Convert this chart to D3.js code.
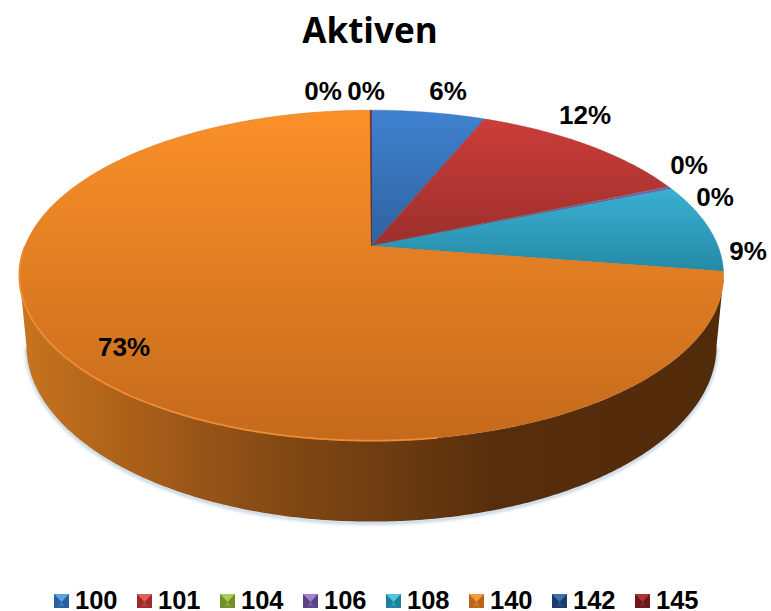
<!DOCTYPE html>
<html><head><meta charset="utf-8">
<script src="https://cdn.jsdelivr.net/npm/d3@7/dist/d3.min.js"></script>
<style>html,body{margin:0;background:#fff;overflow:hidden}svg{display:block}</style>
</head><body>
<script>
const categories = ["100","101","104","106","108","140","142","145"];
const values = [6.2,12.3,0.05,0.2,8.7,72.48,0.02,0.05];
const percentLabels = ["6%","12%","0%","0%","9%","73%","0%","0%"];
const topColors = [["#3f82cf","#2f62a0"],["#cb3d3a","#9c2f2c"],["#94b93f","#7c9a33"],["#7f5cb8","#6a4a9c"],["#3ab0d2","#248aa6"],["#fb9029","#c56a1c"],["#2c4d7c","#1f3a60"],["#8a2523","#6b1b1a"]];
const legendColors = [["#5da2e6","#2a5f9e"],["#e0605c","#9c2a28"],["#a9cd55","#6f8f2c"],["#a082d0","#5c4285"],["#50c4e0","#20809a"],["#f59a35","#b8651a"],["#3f70ad","#1c3c68"],["#a83533","#671a19"]];
const wallStops = [[0,"#c9741f"],[0.12,"#b2651a"],[0.25,"#995518"],[0.4,"#7e4613"],[0.55,"#6a3a10"],[0.68,"#562e0c"],[1,"#522b0b"]];

const W=771,H=611;
const svg=d3.select("body").append("svg").attr("width",W).attr("height",H);
const defs=svg.append("defs");
const cx=371.5, apexY=246, R=346.5, K=0.178, A=160;
const px=d3.scaleLinear().domain([0,1]).range([cx,cx+R]);
const py=d3.scaleLinear().domain([0,1]).range([apexY,apexY-A]);
function topPt(t){const u=Math.sin(t),v=Math.cos(t),d=1+K*v;return [px(u/d),py(v/d)];}
const botX=d3.scaleLinear().domain([cx,cx+100]).range([cx,cx+98]);
const botY=d3.scaleLinear().domain([272,441]).range([342,522]);
function botPt(t){const p=topPt(t);return [botX(p[0]),botY(p[1])];}
const line=d3.line();
const arcs=d3.pie().sort(null)(values);
function samples(a0,a1){const n=Math.max(2,Math.ceil((a1-a0)/0.01));return d3.range(n+1).map(i=>a0+(a1-a0)*i/n);}

topColors.forEach((c,i)=>{const g=defs.append("linearGradient").attr("id","top"+i).attr("x1",0).attr("x2",0).attr("y1",0).attr("y2",1);
 g.append("stop").attr("offset",0).attr("stop-color",c[0]);
 g.append("stop").attr("offset",1).attr("stop-color",c[1]);});
const wg=defs.append("linearGradient").attr("id","wall").attr("gradientUnits","userSpaceOnUse").attr("x1",19).attr("x2",724).attr("y1",0).attr("y2",0);
wallStops.forEach(s=>wg.append("stop").attr("offset",s[0]).attr("stop-color",s[1]));
defs.append("filter").attr("id","blur").attr("x","-5%").attr("y","-5%").attr("width","110%").attr("height","110%").append("feGaussianBlur").attr("stdDeviation",1.8);
defs.append("filter").attr("id","soft").attr("x","-5%").attr("y","-5%").attr("width","110%").attr("height","110%").append("feGaussianBlur").attr("stdDeviation",0.5);

// title
svg.append("text").attr("x",370).attr("y",43).attr("text-anchor","middle").attr("font-family","'Open Sans',sans-serif").attr("font-weight",700).attr("font-size",35).attr("fill","#000").text("Aktiven");

// wall + shadow
const frontA=samples(Math.PI/2+0.18,Math.PI*1.5-0.18);
const wallPts=frontA.map(topPt).concat(frontA.slice().reverse().map(botPt));
svg.append("path").attr("d",line(frontA.map(botPt).map(p=>[p[0],p[1]+1.5])))
 .attr("fill","none").attr("stroke","#8fb0cc").attr("stroke-width",3).attr("opacity",.6).attr("filter","url(#blur)");
svg.append("path").attr("d",line(wallPts)+"Z").attr("fill","url(#wall)");

// top slices
svg.append("g").selectAll("path").data(arcs).join("path")
 .attr("d",d=>line([[cx,apexY]].concat(samples(d.startAngle,d.endAngle).map(topPt)))+"Z")
 .attr("fill",(d,i)=>`url(#top${i})`)
 .attr("stroke",(d,i)=>topColors[i][1]).attr("stroke-width",.4);

// bright front rim
const rimA=samples(Math.PI*0.95,Math.PI*1.5);
svg.append("path").attr("d",line(rimA.map(topPt))).attr("fill","none").attr("stroke","#ee8d34").attr("stroke-width",1.8).attr("filter","url(#soft)");

// labels
const labelPos=[[448,100],[585,124],[689,174],[715,206],[748,260],[124,356],[323,100],[366,100]];
svg.append("g").selectAll("text").data(percentLabels).join("text")
 .attr("x",(d,i)=>labelPos[i][0]).attr("y",(d,i)=>labelPos[i][1])
 .attr("text-anchor","middle").attr("font-family","'Liberation Sans',Arial,sans-serif").attr("font-weight",700).attr("font-size",26).attr("fill","#000").text(d=>d);

// legend
const lx=d3.scalePoint().domain(categories).range([54,635]);
const lg=svg.append("g").selectAll("g").data(categories).join("g").attr("transform",d=>`translate(${lx(d)},594)`);
legendColors.forEach((c,i)=>{const g=defs.append("linearGradient").attr("id","leg"+i).attr("x1",0).attr("x2",0).attr("y1",0).attr("y2",1);
 g.append("stop").attr("offset",0).attr("stop-color",c[0]);g.append("stop").attr("offset",1).attr("stop-color",c[1]);});
lg.append("rect").attr("width",15).attr("height",14).attr("fill",(d,i)=>legendColors[i][1]);
lg.append("path").attr("d",line([[0,0],[15,0],[7.5,8]])+"Z").attr("fill",(d,i)=>legendColors[i][0]);
lg.append("path").attr("d",line([[2,14],[13,14],[7.5,8]])+"Z").attr("fill",(d,i)=>`url(#leg${i})`).attr("opacity",.6);
lg.append("text").attr("x",21).attr("y",15).attr("font-family","'Liberation Sans',Arial,sans-serif").attr("font-weight",700).attr("font-size",25.5).attr("fill","#000").text(d=>d);
</script>
</body></html>
